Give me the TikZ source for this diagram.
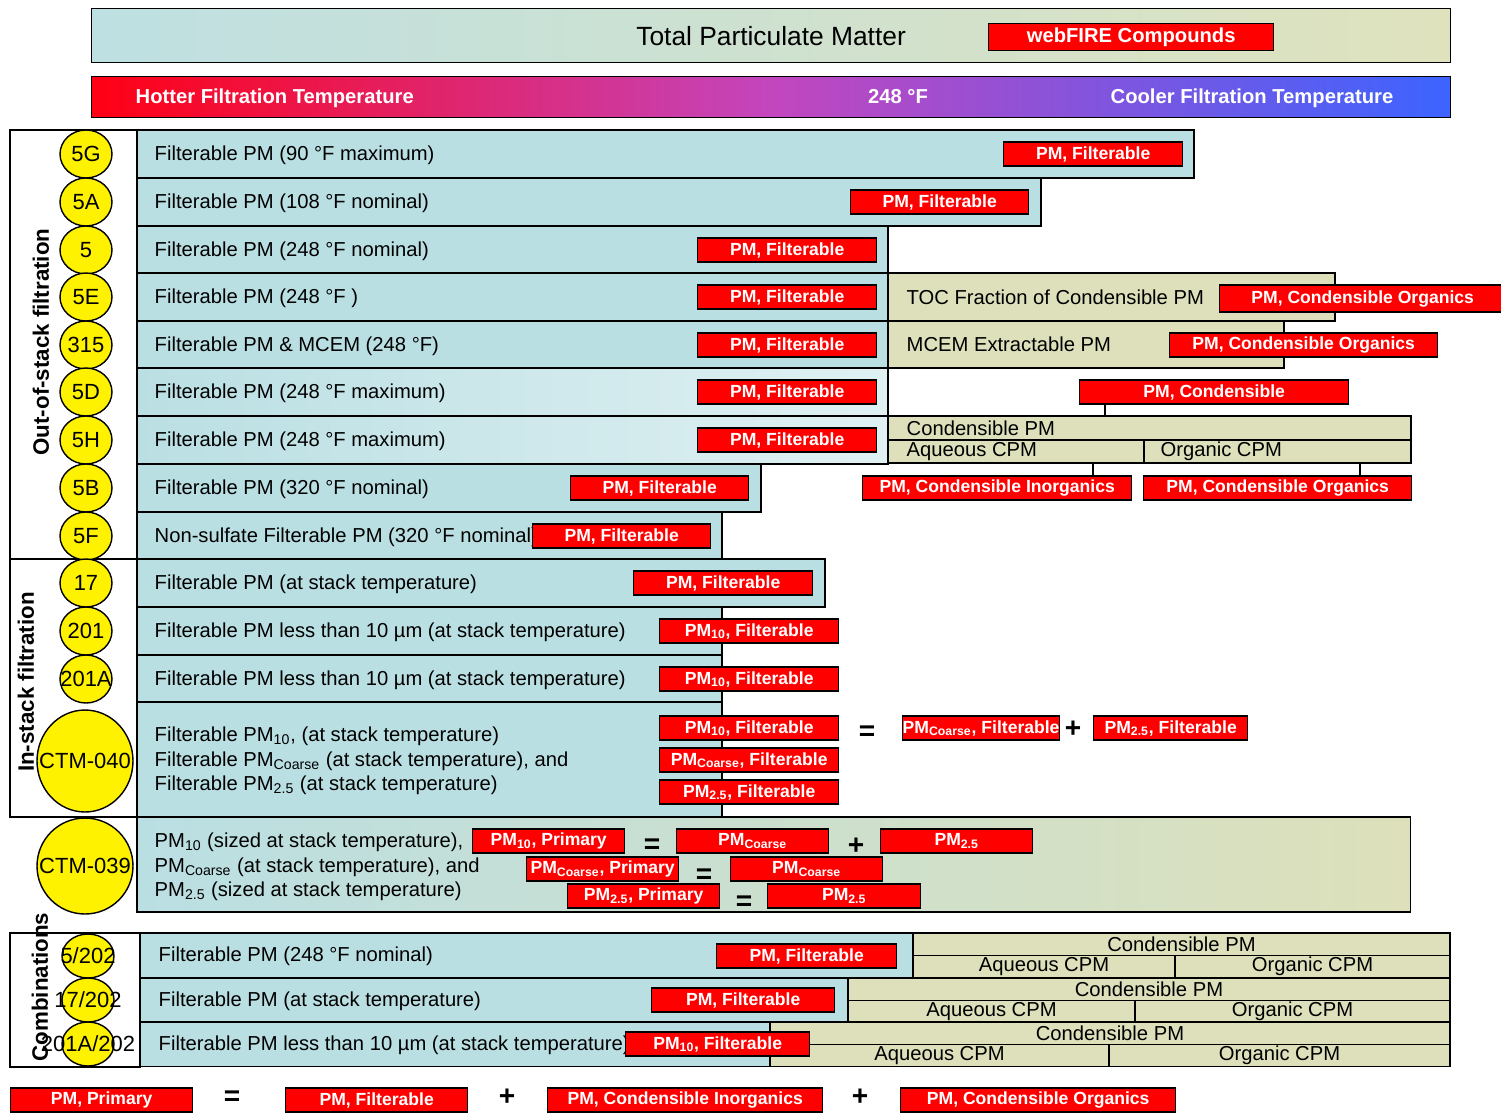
\documentclass[tikz,border=0pt]{standalone}
\usepackage{fontspec}
\setmainfont{Liberation Sans}
\usetikzlibrary{positioning, shapes.geometric, calc}

\definecolor{rowblue}{RGB}{186,223,227}
\definecolor{khaki}{RGB}{221,224,186}
\definecolor{pmred}{RGB}{255,0,0}
\definecolor{titleL}{RGB}{190,224,226}
\definecolor{titleR}{RGB}{223,226,189}
\definecolor{hotred}{RGB}{255,0,20}
\definecolor{midmag}{RGB}{195,70,190}
\definecolor{coolblue}{RGB}{60,100,255}
\newcommand{\setfs}[1]{\fontsize{#1}{#1}\selectfont}

\begin{document}
\begin{tikzpicture}[x=0.02cm, y=-0.02cm, line width=0.8pt,
    every node/.style={font=\setfs{11.5}},
    rowbox/.style={draw, fill=rowblue, inner sep=0pt, outer sep=0pt, anchor=north west},
    cpmbox/.style={draw, fill=khaki, inner sep=0pt, outer sep=0pt, anchor=north west},
    rowtxt/.style={anchor=west, inner sep=0pt, align=left, font=\fontsize{11.5}{13.9}\selectfont},
    redlbl/.style={draw, fill=pmred, text=white, inner sep=0pt, anchor=west, minimum height=0.48cm, font=\bfseries\setfs{10}},
    mcirc/.style={ellipse, draw, fill=yellow, inner sep=0pt, minimum width=1.04cm, minimum height=0.96cm},
    circtxt/.style={inner sep=0pt, font=\setfs{12.5}},
    grplbl/.style={rotate=90, inner sep=0pt, font=\bfseries\setfs{12.7}},
    grpbox/.style={draw, fill=white, inner sep=0pt, outer sep=0pt, anchor=north west},
    tempwh/.style={text=white, inner sep=0pt, font=\bfseries\setfs{11.5}},
    opsign/.style={inner sep=0pt, font=\bfseries\setfs{16}}]
    \useasboundingbox (0,0) rectangle (1501,1113);
    % Title and temperature bar
    \node[draw, left color=titleL, right color=titleR, minimum width=27.18cm, minimum height=1.08cm,
      anchor=north west, inner sep=0pt, font=\setfs{15}] (title) at (91,8) {Total Particulate Matter};
    \node[redlbl, minimum width=5.7cm, minimum height=0.54cm, font=\bfseries\setfs{11.5}] (webfire) at (988,37) {webFIRE Compounds};
    \node[draw, left color=hotred, right color=coolblue, middle color=midmag, minimum width=27.18cm,
      minimum height=0.82cm, anchor=north west] (tempbar) at (91,76) {};
    \node[tempwh, anchor=west] (hot) at (135,98) {Hotter Filtration Temperature};
    \node[tempwh] (midtemp) at (898,97) {248 °F};
    \node[tempwh, anchor=west] (cool) at (1110,98) {Cooler Filtration Temperature};
    % Group boxes
    \node[grpbox, minimum width=2.54cm, minimum height=8.58cm] (outgrp) at (10,130) {};
    \node[grpbox, minimum width=2.54cm, minimum height=5.16cm] (ingrp) at (10,559) {};
    \node[grpbox, minimum width=2.6cm, minimum height=2.68cm] (cmbgrp) at (10,933) {};
    % Method rows
    \foreach \id/\yt/\yb/\xr/\rc/\desc in {
      5G/130/178/1194/rowblue/{Filterable PM (90 °F maximum)},
      5A/178/226/1041/rowblue/{Filterable PM (108 °F nominal)},
      5/226/273/888/rowblue/{Filterable PM (248 °F nominal)},
      5E/273/321/888/rowblue/{Filterable PM (248 °F )},
      315/321/368/888/rowblue/{Filterable PM \& MCEM (248 °F)},
      5D/368/416/888/rowblue!45!white/{Filterable PM (248 °F maximum)},
      5H/416/464/888/rowblue!45!white/{Filterable PM (248 °F maximum)},
      5B/464/512/761/rowblue/{Filterable PM (320 °F nominal)},
      5F/512/559/722/rowblue/{Non-sulfate Filterable PM (320 °F nominal)},
      17/559/607/825/rowblue/{Filterable PM (at stack temperature)},
      201/607/655/722/rowblue/{Filterable PM less than 10 µm (at stack temperature)},
      201A/655/702/722/rowblue/{Filterable PM less than 10 µm (at stack temperature)}
    }
    {
      \pgfmathsetmacro\w{(\xr-137)*0.02}
      \pgfmathsetmacro\h{(\yb-\yt)*0.02}
      \node[rowbox, left color=rowblue, right color=\rc, minimum width=\w cm, minimum height=\h cm] (r\id) at (137,\yt) {};
      \node[rowtxt] (t\id) at ([xshift=0.34cm, yshift=-0.03cm]r\id.west) {\desc};
    }
    \node[rowbox, minimum width=11.7cm, minimum height=2.3cm] (rCTMa) at (137,702) {};
    \node[rowtxt] (tCTMa) at (154,761) {Filterable PM\textsubscript{10}, (at stack temperature)\\
      Filterable PM\textsubscript{Coarse} (at stack temperature), and\\
      Filterable PM\textsubscript{2.5} (at stack temperature)};
    \node[rowbox, left color=rowblue, right color=khaki, minimum width=25.48cm, minimum height=1.9cm] (rCTMb) at (137,817) {};
    \node[rowtxt] (tCTMb) at (154,867) {PM\textsubscript{10} (sized at stack temperature),\\
      PM\textsubscript{Coarse} (at stack temperature), and\\
      PM\textsubscript{2.5} (sized at stack temperature)};
    % Combination rows
    \foreach \id/\yt/\xr/\desc in {
      A/933/913/{Filterable PM (248 °F nominal)},
      B/978/848/{Filterable PM (at stack temperature)},
      C/1022/770/{Filterable PM less than 10 µm (at stack temperature)}
    }
    {
      \pgfmathsetmacro\w{(\xr-140)*0.02}
      \node[rowbox, minimum width=\w cm, minimum height=0.89cm] (rc\id) at (140,\yt) {};
      \node[rowtxt] (tc\id) at ([xshift=0.36cm, yshift=-0.03cm]rc\id.west) {\desc};
    }
    \foreach \id/\yt/\xl/\xs in {A/933/913/1175, B/978/848/1135, C/1022/770/1109}
    {
      \pgfmathsetmacro\wa{(1450-\xl)*0.02}
      \pgfmathsetmacro\wb{(\xs-\xl)*0.02}
      \pgfmathsetmacro\wc{(1450-\xs)*0.02}
      \node[cpmbox, minimum width=\wa cm, minimum height=0.445cm] (cp\id) at (\xl,\yt) {Condensible PM};
      \node[cpmbox, minimum width=\wb cm, minimum height=0.445cm] (aq\id) at (cp\id.south west) {Aqueous CPM};
      \node[cpmbox, minimum width=\wc cm, minimum height=0.445cm] (og\id) at (aq\id.north east) {Organic CPM};
    }
    % Condensible parts
    \node[cpmbox, minimum width=8.94cm, minimum height=0.96cm] (toc) at (888,273) {};
    \node[rowtxt] (ttoc) at ([xshift=0.36cm]toc.west) {TOC Fraction of Condensible PM};
    \node[cpmbox, minimum width=7.92cm, minimum height=0.94cm] (mcem) at (888,321) {};
    \node[rowtxt] (tmcem) at ([xshift=0.36cm]mcem.west) {MCEM Extractable PM};
    \node[cpmbox, minimum width=10.46cm, minimum height=0.48cm] (cp5H) at (888,416) {};
    \node[rowtxt] (tcp5H) at ([xshift=0.36cm]cp5H.west) {Condensible PM};
    \node[cpmbox, minimum width=5.12cm, minimum height=0.46cm] (aq5H) at (cp5H.south west) {};
    \node[rowtxt] (taq5H) at ([xshift=0.36cm]aq5H.west) {Aqueous CPM};
    \node[cpmbox, minimum width=5.34cm, minimum height=0.46cm] (og5H) at (aq5H.north east) {};
    \node[rowtxt] (tog5H) at ([xshift=0.32cm]og5H.west) {Organic CPM};
    % webFIRE labels
    \foreach \nm/\xa/\xb/\yc/\txt in {
      f5G/1003/1182/154/{PM, Filterable},
      f5A/850/1028/202/{PM, Filterable},
      f5/697/876/250/{PM, Filterable},
      f5E/697/876/297/{PM, Filterable},
      f315/697/876/345/{PM, Filterable},
      f5D/697/876/392/{PM, Filterable},
      f5H/697/876/440/{PM, Filterable},
      f5B/570/748/488/{PM, Filterable},
      f5F/532/710/536/{PM, Filterable},
      f17/633/812/583/{PM, Filterable},
      f201/659/838/631/{PM\textsubscript{10}, Filterable},
      f201A/659/838/679/{PM\textsubscript{10}, Filterable},
      fCa/659/838/728/{PM\textsubscript{10}, Filterable},
      fCb/659/838/760/{PM\textsubscript{Coarse}, Filterable},
      fCc/659/838/792/{PM\textsubscript{2.5}, Filterable},
      fCd/902/1057/728/{PM\textsubscript{Coarse}, Filterable},
      fCe/1093/1247/728/{PM\textsubscript{2.5}, Filterable},
      pA/472/624/841/{PM\textsubscript{10}, Primary},
      pB/676/828/841/{PM\textsubscript{Coarse}},
      pC/880/1032/841/{PM\textsubscript{2.5}},
      pD/526/678/869/{PM\textsubscript{Coarse}, Primary},
      pE/730/882/869/{PM\textsubscript{Coarse}},
      pF/567/719/896/{PM\textsubscript{2.5}, Primary},
      pG/767/920/896/{PM\textsubscript{2.5}},
      fcA/716/896/956/{PM, Filterable},
      fcB/651/834/1000/{PM, Filterable},
      fcC/625/809/1044/{PM\textsubscript{10}, Filterable},
      mcemo/1169/1437/345/{PM, Condensible Organics},
      cond/1079/1348/392/{PM, Condensible},
      inorg/862/1131/488/{PM, Condensible Inorganics},
      org/1143/1411/488/{PM, Condensible Organics},
      bA/10/192/1100/{PM, Primary},
      bB/285/467/1100/{PM, Filterable},
      bC/547/822/1100/{PM, Condensible Inorganics},
      bD/900/1175/1100/{PM, Condensible Organics}
    }
    {
      \pgfmathsetmacro\w{(\xb-\xa)*0.02}
      \node[redlbl, minimum width=\w cm] (\nm) at (\xa,\yc) {\txt};
    }
    \node[redlbl, minimum width=5.72cm, minimum height=0.54cm] (toco) at (1219,298.5) {PM, Condensible Organics};
    % Stems
    \coordinate (stA) at (1105,0);
    \coordinate (stB) at (1093,0);
    \coordinate (stC) at (1360,0);
    \draw (cond.south -| stA) -- (cp5H.north -| stA);
    \draw (aq5H.south -| stB) -- (inorg.north -| stB);
    \draw (og5H.south -| stC) -- (org.north -| stC);
    % Signs
    \foreach \nm/\x/\y/\sg in {eqA/867/733/=, plA/1073/729/+, eqB/652/846/=, plB/856/846/+,
      eqC/704/876/=, eqD/744/903/=, eqE/232/1098/=, plE/507/1097/+, plF/860/1097/+}
    {
      \node[opsign] (\nm) at (\x,\y) {\sg};
    }
    % Method circles
    \foreach \id/\y in {5G/154, 5A/202, 5/250, 5E/297, 315/345, 5D/392, 5H/440, 5B/488, 5F/536,
      17/583, 201/631, 201A/679}
    {
      \node[mcirc] (c\id) at (86,\y) {};
      \node[circtxt] (n\id) at (c\id) {\id};
    }
    \node[mcirc, minimum width=1.92cm, minimum height=2.04cm] (cCTMa) at (85,761) {};
    \node[circtxt] (nCTMa) at (cCTMa) {CTM-040};
    \node[mcirc, minimum width=1.92cm, minimum height=1.92cm] (cCTMb) at (85,866) {};
    \node[circtxt] (nCTMb) at (cCTMb) {CTM-039};
    \node[mcirc, minimum width=1.04cm, minimum height=0.88cm] (ccA) at (88,956) {};
    \node[circtxt] (ncA) at (ccA) {5/202};
    \node[mcirc, minimum width=1.04cm, minimum height=0.88cm] (ccB) at (88,1000) {};
    \node[circtxt] (ncB) at (ccB) {17/202};
    \node[mcirc, minimum width=1.04cm, minimum height=0.88cm] (ccC) at (88,1044) {};
    \node[circtxt] (ncC) at (ccC) {201A/202};
    % Group labels
    \node[grplbl] (lout) at (41,342) {Out-of-stack filtration};
    \node[grplbl] (lin) at (26,682) {In-stack filtration};
    \node[grplbl] (lcmb) at (40,987) {Combinations};
\end{tikzpicture}
\end{document}
